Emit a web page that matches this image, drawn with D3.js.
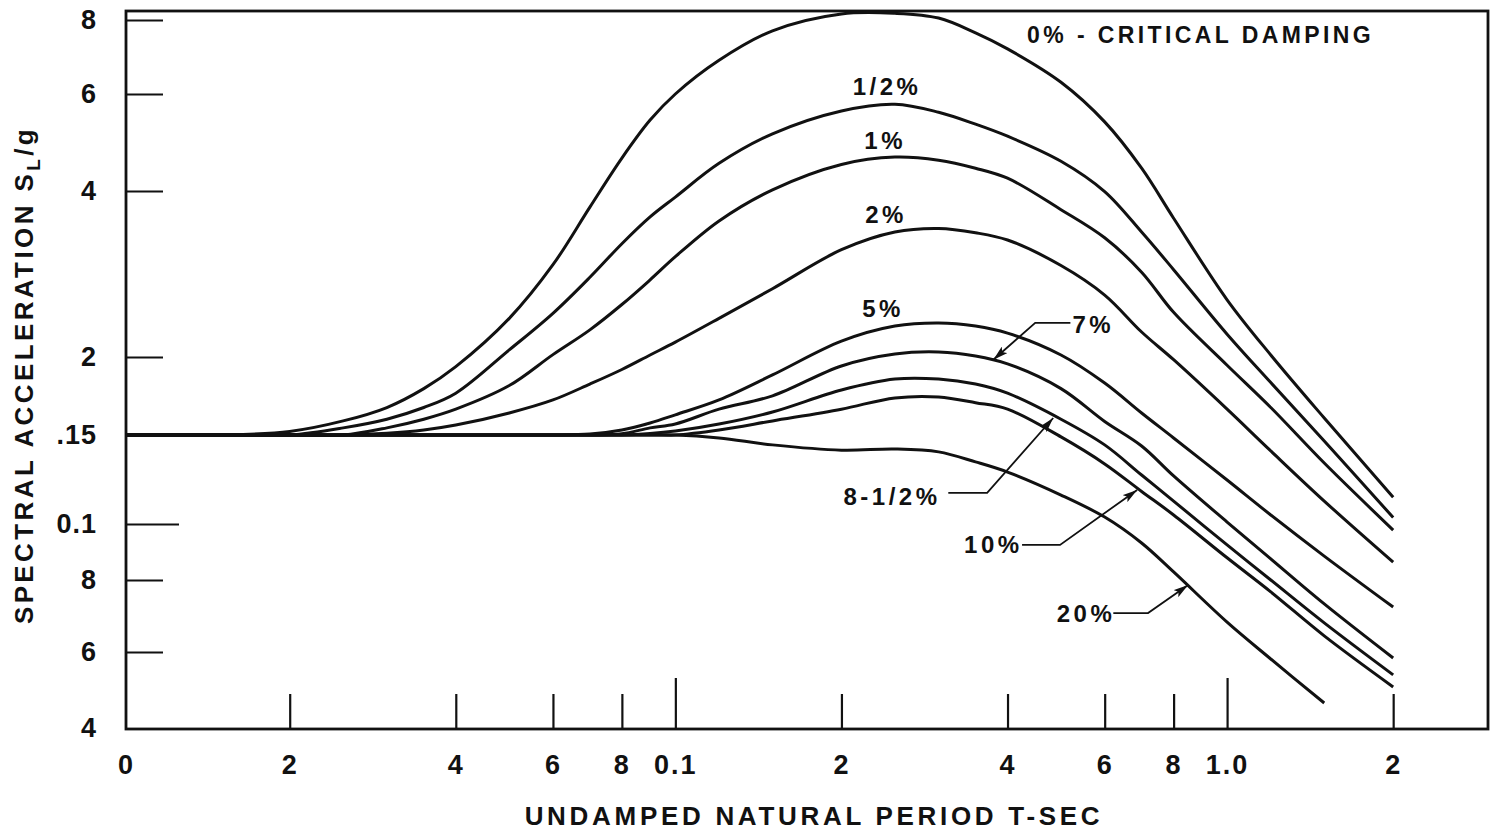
<!DOCTYPE html>
<html><head><meta charset="utf-8">
<script src="https://cdn.jsdelivr.net/npm/d3@7"></script>
<style>
body{margin:0;background:#fff;}
svg{display:block;font-family:"Liberation Sans",Arial,Helvetica,sans-serif;font-weight:bold;}
</style></head><body>
<svg id="chart" width="1497" height="834"></svg>
<script>
// ---------------- DATA ----------------
const periods = [0.0101, 0.015, 0.02, 0.025, 0.03, 0.035, 0.04, 0.05, 0.06, 0.07, 0.08, 0.09, 0.1, 0.12, 0.15, 0.2, 0.25, 0.3, 0.35, 0.4, 0.5, 0.6, 0.7, 0.8, 1.0, 1.2, 1.5, 2.0];

const damp0   = [0.15, 0.15, 0.152, 0.158, 0.166, 0.178, 0.193, 0.235, 0.294, 0.374, 0.459, 0.538, 0.600, 0.684, 0.767, 0.819, 0.821, 0.806, 0.761, 0.715, 0.628, 0.534, 0.440, 0.357, 0.254, 0.2017, 0.1597, 0.113];
const damp05  = [0.15, 0.15, 0.15, 0.154, 0.159, 0.166, 0.175, 0.206, 0.240, 0.279, 0.321, 0.359, 0.390, 0.449, 0.508, 0.559, 0.575, 0.556, 0.529, 0.503, 0.453, 0.399, 0.337, 0.288, 0.220, 0.182, 0.146, 0.103];
const damp1   = [0.15, 0.15, 0.15, 0.15, 0.154, 0.159, 0.165, 0.180, 0.202, 0.224, 0.249, 0.276, 0.304, 0.353, 0.402, 0.447, 0.461, 0.455, 0.440, 0.422, 0.370, 0.329, 0.285, 0.241, 0.194, 0.166, 0.132, 0.0976];
const damp2   = [0.15, 0.15, 0.15, 0.15, 0.151, 0.1528, 0.1556, 0.1627, 0.1707, 0.181, 0.191, 0.2017, 0.2128, 0.235, 0.266, 0.313, 0.337, 0.342, 0.336, 0.326, 0.293, 0.259, 0.222, 0.198, 0.165, 0.1395, 0.111, 0.0859];
const damp5   = [0.15, 0.15, 0.15, 0.15, 0.15, 0.15, 0.15, 0.15, 0.15, 0.1505, 0.1528, 0.1568, 0.1616, 0.1707, 0.1872, 0.2137, 0.2276, 0.2306, 0.2276, 0.221, 0.2017, 0.1817, 0.1627, 0.148, 0.1222, 0.1042, 0.088, 0.0718];
const damp7   = [0.15, 0.15, 0.15, 0.15, 0.15, 0.15, 0.15, 0.15, 0.15, 0.15, 0.1507, 0.154, 0.1562, 0.165, 0.1733, 0.1935, 0.2025, 0.2042, 0.2008, 0.195, 0.178, 0.1577, 0.1427, 0.1245, 0.1009, 0.087, 0.0727, 0.0581];
const damp85  = [0.15, 0.15, 0.15, 0.15, 0.15, 0.15, 0.15, 0.15, 0.15, 0.15, 0.15, 0.1508, 0.1522, 0.1562, 0.1633, 0.1771, 0.1844, 0.1844, 0.181, 0.175, 0.159, 0.1434, 0.125, 0.111, 0.092, 0.080, 0.0674, 0.0531];
const damp10  = [0.15, 0.15, 0.15, 0.15, 0.15, 0.15, 0.15, 0.15, 0.15, 0.15, 0.15, 0.15, 0.15, 0.1528, 0.158, 0.165, 0.172, 0.1726, 0.169, 0.165, 0.1487, 0.1315, 0.116, 0.1042, 0.0874, 0.0763, 0.064, 0.0498];
const damp20  = [0.15, 0.15, 0.15, 0.15, 0.15, 0.15, 0.15, 0.15, 0.15, 0.15, 0.15, 0.15, 0.15, 0.148, 0.1434, 0.140, 0.1407, 0.1389, 0.1327, 0.1267, 0.1141, 0.1032, 0.0927, 0.0826, 0.0676, 0.0578, 0.0457, null];

const seriesValues = [damp0, damp05, damp1, damp2, damp5, damp7, damp85, damp10, damp20];

const xTickValues = [0.0101, 0.02, 0.04, 0.06, 0.08, 0.1, 0.2, 0.4, 0.6, 0.8, 1.0, 2.0];
const xTickLabels = ["0", "2", "4", "6", "8", "0.1", "2", "4", "6", "8", "1.0", "2"];
const yTickValues = [0.04, 0.06, 0.08, 0.1, 0.15, 0.2, 0.4, 0.6, 0.8];
const yTickLabels = ["4", "6", "8", "0.1", ".15", "2", "4", "6", "8"];

// curve labels (anchor = middle, baseline), in data units
const labelTexts   = ["1/2%", "1%", "2%", "5%", "7%", "8-1/2%", "10%", "20%"];
const labelPeriods = [0.242, 0.240, 0.241, 0.238, 0.572, 0.247, 0.377, 0.555];
const labelSa      = [0.598, 0.477, 0.350, 0.236, 0.221, 0.109, 0.0891, 0.0676];

// leader arrows: label end -> elbow -> tip, in data units
const arrowPeriods = [[0.520, 0.449, 0.377], [0.3124, 0.3674, 0.484], [0.425, 0.498, 0.687], [0.622, 0.719, 0.850]];
const arrowSa      = [[0.2306, 0.2306, 0.198], [0.1152, 0.1152, 0.1597], [0.092, 0.092, 0.1168], [0.0701, 0.0701, 0.0784]];

// ---------------- LAYOUT ----------------
const svg = d3.select("#chart");
const plotLeft = 126, plotRight = 1488, plotTop = 11, plotBottom = 729;

const x = d3.scaleLog().domain([0.0101, 2.971]).range([plotLeft, plotRight]);
// hand-drawn log paper: piecewise log scale through the printed tick positions
const y = d3.scaleLog()
  .domain([0.04, 0.06, 0.08, 0.1, 0.15, 0.2, 0.4, 0.6, 0.8, 0.8285])
  .range([728, 652, 580, 524, 435, 357, 191, 94, 20, 11]);

const ink = "#111";

// frame
svg.append("rect").attr("x", plotLeft).attr("y", plotTop)
  .attr("width", plotRight - plotLeft).attr("height", plotBottom - plotTop)
  .attr("fill", "none").attr("stroke", ink).attr("stroke-width", 2.8);

// x axis
const gx = svg.append("g").attr("transform", `translate(0,${plotBottom})`)
  .call(d3.axisBottom(x).tickValues(xTickValues).tickFormat((d, i) => xTickLabels[i]).tickSize(-35).tickPadding(26));
gx.select(".domain").remove();
gx.selectAll(".tick line").attr("stroke", ink).attr("stroke-width", 2.2)
  .attr("y2", d => (d === 0.1 || d === 1.0) ? -51 : (d < 0.011 ? 0 : -35));
gx.attr("font-family", null).attr("font-size", null);
gx.selectAll(".tick text").attr("fill", ink).style("font-size", "27px").style("letter-spacing", "2px");

// y axis
const gy = svg.append("g").attr("transform", `translate(${plotLeft},0)`)
  .call(d3.axisLeft(y).tickValues(yTickValues).tickFormat((d, i) => yTickLabels[i]).tickSize(-37).tickPadding(29));
gy.select(".domain").remove();
gy.selectAll(".tick line").attr("stroke", ink).attr("stroke-width", 2.2)
  .attr("x2", d => d === 0.1 ? 53 : ((d === 0.15 || d === 0.04) ? 0 : 37));
gy.attr("font-family", null).attr("font-size", null);
gy.selectAll(".tick text").attr("fill", ink).style("font-size", "27px").style("letter-spacing", "1px");

// curves
const line = d3.line()
  .defined(d => d[1] != null)
  .x(d => x(d[0])).y(d => y(d[1]))
  .curve(d3.curveCatmullRom.alpha(0.5));

svg.append("g").selectAll("path").data(seriesValues).join("path")
  .attr("d", vals => line(periods.map((p, i) => [p, vals[i]])))
  .attr("fill", "none").attr("stroke", ink).attr("stroke-width", 3).attr("stroke-linejoin", "round");

// arrowhead marker
svg.append("defs").append("marker")
  .attr("id", "arrow").attr("viewBox", "0 0 14 8").attr("refX", 14).attr("refY", 4)
  .attr("markerWidth", 15).attr("markerHeight", 9).attr("markerUnits", "userSpaceOnUse")
  .attr("orient", "auto")
  .append("path").attr("d", "M0,0 L14,4 L0,8 L3,4 Z").attr("fill", ink);

// leaders
svg.append("g").selectAll("path").data(arrowPeriods).join("path")
  .attr("d", (ps, k) => d3.line()(ps.map((p, j) => [x(p), y(arrowSa[k][j])])))
  .attr("fill", "none").attr("stroke", ink).attr("stroke-width", 1.8)
  .attr("marker-end", "url(#arrow)");

// curve labels
svg.append("g").selectAll("text").data(labelTexts).join("text")
  .attr("x", (d, i) => x(labelPeriods[i])).attr("y", (d, i) => y(labelSa[i]))
  .attr("text-anchor", "middle").attr("fill", ink)
  .style("font-size", "24px").style("letter-spacing", "3.5px")
  .text(d => d);

// header label
svg.append("text").attr("x", x(0.434)).attr("y", y(0.731)).attr("fill", ink)
  .style("font-size", "23px").style("letter-spacing", "3.4px")
  .text("0% - CRITICAL DAMPING");

// axis titles
svg.append("text").attr("x", 814).attr("y", 825).attr("text-anchor", "middle").attr("fill", ink)
  .style("font-size", "26px").style("letter-spacing", "3.7px")
  .text("UNDAMPED NATURAL PERIOD T-SEC");

const yt = svg.append("text").attr("transform", "translate(33,375) rotate(-90)")
  .attr("text-anchor", "middle").attr("fill", ink)
  .style("font-size", "26px").style("letter-spacing", "3.4px");
yt.append("tspan").text("SPECTRAL ACCELERATION S");
yt.append("tspan").attr("dy", 7).style("font-size", "19px").text("L");
yt.append("tspan").attr("dy", -7).text("/g");
</script>
</body></html>
